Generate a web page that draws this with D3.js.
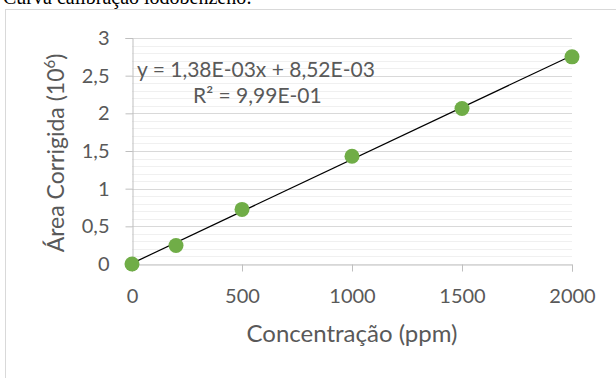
<!DOCTYPE html>
<html>
<head>
<meta charset="utf-8">
<script src="https://cdn.jsdelivr.net/npm/d3@7"></script>
<style>
  body { margin: 0; background: #fff; }
  svg { display: block; }
</style>
</head>
<body>
<svg id="chart"></svg>
<script>
const WIDTH = 616
const HEIGHT = 378

// data
const concentracao = [0, 200, 500, 1000, 1500, 2000]
const area = [0, 0.245, 0.725, 1.43, 2.065, 2.75]
const xTicks = [0, 500, 1000, 1500, 2000]
const yTicks = [0, 0.5, 1, 1.5, 2, 2.5, 3]
const yMinorTicks = d3.range(0, 3.001, 0.1)
const slope = 1.38e-3
const intercept = 8.52e-3

const margin = { left: 132, right: 44, top: 38, bottom: 114 }

const svg = d3.select('#chart').attr('width', WIDTH).attr('height', HEIGHT)

const x = d3.scaleLinear().domain([0, 2000]).range([margin.left, WIDTH - margin.right])
const y = d3.scaleLinear().domain([0, 3]).range([HEIGHT - margin.bottom, margin.top])

// title, cut off at the top
svg.append('text')
    .attr('x', 3)
    .attr('y', 4)
    .attr('font-family', 'Liberation Serif')
    .attr('font-size', 20)
    .attr('fill', '#000')
    .text('Curva calibração iodobenzeno:')

// chart frame
svg.append('rect')
    .attr('x', 5.5)
    .attr('y', 9.5)
    .attr('width', 640)
    .attr('height', 400)
    .attr('fill', 'none')
    .attr('stroke', '#d9d9d9')

// minor gridlines
svg.append('g')
    .selectAll('line')
    .data(yMinorTicks)
    .join('line')
    .attr('x1', x(0))
    .attr('x2', x(2000))
    .attr('y1', d => Math.round(y(d)) + 0.5)
    .attr('y2', d => Math.round(y(d)) + 0.5)
    .attr('stroke', '#f0f0f0')

// major gridlines
svg.append('g')
    .selectAll('line')
    .data(yTicks.slice(1))
    .join('line')
    .attr('x1', x(0))
    .attr('x2', x(2000))
    .attr('y1', d => Math.round(y(d)) + 0.5)
    .attr('y2', d => Math.round(y(d)) + 0.5)
    .attr('stroke', '#d9d9d9')

const font = 'Lato, Carlito, sans-serif'

const xAxis = svg.append('g')
    .attr('transform', `translate(0, ${Math.round(y(0)) + 0.5})`)
    .call(d3.axisBottom(x).tickValues(xTicks).tickSize(7).tickPadding(17).tickFormat(d3.format('d')))
xAxis.select('.domain').attr('stroke', '#bfbfbf')
xAxis.selectAll('.tick line').attr('stroke', '#bfbfbf')
xAxis.selectAll('text')
    .attr('font-family', font)
    .attr('font-size', 20)
    .attr('fill', '#595959')

const yAxis = svg.append('g')
    .attr('transform', `translate(${Math.round(x(0)) + 0.5}, 0)`)
    .call(d3.axisLeft(y).tickValues(yTicks).tickSize(7).tickPadding(16).tickFormat(d => String(d).replace('.', ',')))
yAxis.select('.domain').attr('stroke', '#bfbfbf')
yAxis.selectAll('.tick line').attr('stroke', '#bfbfbf')
yAxis.selectAll('text')
    .attr('font-family', font)
    .attr('font-size', 20)
    .attr('fill', '#595959')

// axis titles
svg.append('text')
    .attr('x', (x(0) + x(2000)) / 2)
    .attr('y', 342)
    .attr('text-anchor', 'middle')
    .attr('font-family', font)
    .attr('font-size', 24)
    .attr('fill', '#595959')
    .text('Concentração (ppm)')

const yTitle = svg.append('text')
    .attr('transform', `translate(64, ${(y(0) + y(3)) / 2 + 2}) rotate(-90)`)
    .attr('text-anchor', 'middle')
    .attr('font-family', font)
    .attr('font-size', 23)
    .attr('fill', '#595959')
yTitle.append('tspan').text('Área Corrigida (10')
yTitle.append('tspan').attr('dy', -9).attr('font-size', 15).text('6')
yTitle.append('tspan').attr('dy', 9).text(')')

// trend line
svg.append('line')
    .attr('x1', x(0))
    .attr('y1', y(intercept))
    .attr('x2', x(2000))
    .attr('y2', y(slope * 2000 + intercept))
    .attr('stroke', '#000')
    .attr('stroke-width', 1.2)

// points
svg.append('g')
    .selectAll('circle')
    .data(concentracao)
    .join('circle')
    .attr('cx', d => x(d))
    .attr('cy', (d, i) => y(area[i]))
    .attr('r', 7.5)
    .attr('fill', '#70ad47')

// equation
svg.append('text')
    .attr('x', 137)
    .attr('y', 77)
    .attr('font-family', font)
    .attr('font-size', 21)
    .attr('fill', '#595959')
    .text('y = 1,38E-03x + 8,52E-03')

svg.append('text')
    .attr('x', 193)
    .attr('y', 103)
    .attr('font-family', font)
    .attr('font-size', 21)
    .attr('fill', '#595959')
    .text('R² = 9,99E-01')
</script>
</body>
</html>
